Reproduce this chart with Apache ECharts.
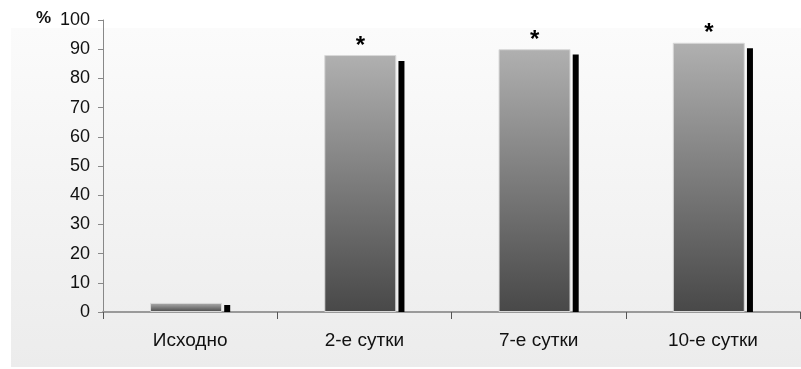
<!DOCTYPE html>
<html>
<head>
<meta charset="utf-8">
<script src="https://cdn.jsdelivr.net/npm/echarts@6/dist/echarts.min.js"></script>
<style>html,body{margin:0;padding:0;background:#fff}#c{width:801px;height:369px}</style>
</head>
<body>
<div id="c"></div>
<script>
var categories = ['Исходно', '2-е сутки', '7-е сутки', '10-е сутки'];
var grayValues = [3.1, 88.0, 90.0, 92.2];
var blackValues = [2.4, 86.0, 88.2, 90.3];
var marks = ['', '*', '*', '*'];
var yTicks = [0, 10, 20, 30, 40, 50, 60, 70, 80, 90, 100];

var chart = echarts.init(document.getElementById('c'), null, {renderer: 'canvas'});
var font = '"Liberation Sans", Arial, sans-serif';
chart.setOption({
  animation: false,
  backgroundColor: '#ffffff',
  graphic: [
    {type: 'rect', left: 11, top: 28, z: -10, silent: true,
     shape: {width: 790, height: 339},
     style: {fill: new echarts.graphic.LinearGradient(0, 0, 0, 1, [
       {offset: 0, color: '#fbfbfb'}, {offset: 1, color: '#ececec'}])}},
    {type: 'text', left: 36, top: 10, z: 10,
     style: {text: '%', font: 'bold 17px ' + font, fill: '#111'}}
  ],
  grid: {left: 103, right: 1, top: 20, bottom: 57, containLabel: false},
  xAxis: {
    type: 'category', data: categories,
    axisLine: {show: true, lineStyle: {color: '#9a9a9a', width: 2}},
    axisTick: {show: true, length: 7, alignWithLabel: false, lineStyle: {color: '#555', width: 1}},
    axisLabel: {color: '#111', fontSize: 19, fontFamily: font, margin: 19}
  },
  yAxis: {
    type: 'value', min: 0, max: 100, interval: 10,
    axisLine: {show: true, lineStyle: {color: '#888', width: 1}},
    axisTick: {show: true, length: 5, inside: false, lineStyle: {color: '#888'}},
    axisLabel: {color: '#111', fontSize: 18, fontFamily: font, margin: 13,
      formatter: function (v) { return yTicks.indexOf(v) >= 0 ? String(v) : ''; }},
    splitLine: {show: false}
  },
  series: [
    {
      type: 'bar', data: grayValues, barWidth: 72, barGap: '3%',
      itemStyle: {
        color: new echarts.graphic.LinearGradient(0, 0, 0, 1, [
          {offset: 0, color: '#b0b0b0'}, {offset: 1, color: '#484848'}]),
        borderColor: '#d8d8d8', borderWidth: 1
      },
      label: {show: true, position: 'top', distance: -1,
        formatter: function (p) { return marks[p.dataIndex]; },
        fontSize: 24, fontWeight: 'bold', color: '#000', fontFamily: font, lineHeight: 20}
    },
    {
      type: 'bar', data: blackValues, barWidth: 6,
      itemStyle: {color: '#000'}
    }
  ]
});
</script>
</body>
</html>
